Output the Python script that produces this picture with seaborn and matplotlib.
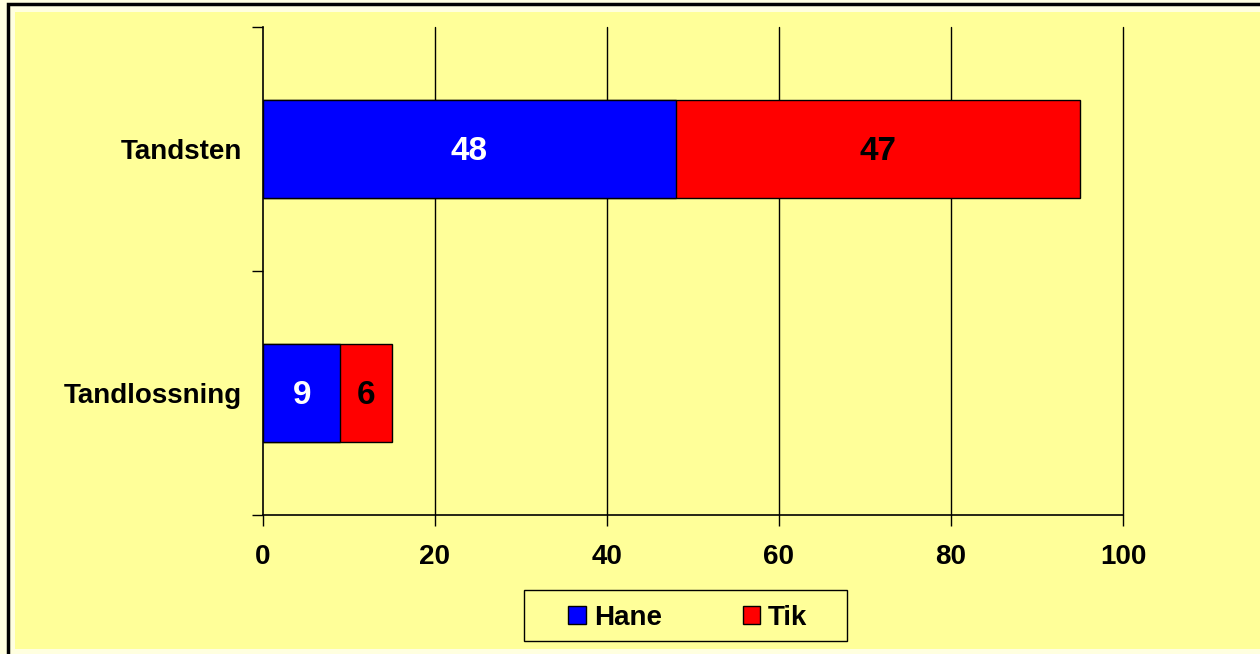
import matplotlib
matplotlib.use("Agg")
import matplotlib.pyplot as plt
from matplotlib.patches import Patch, Rectangle
import pandas as pd
import seaborn as sns

categories = ["Tandsten", "Tandlossning"]
hane = [48, 9]
tik = [47, 6]
x_ticks = [0, 20, 40, 60, 80, 100]

df = pd.DataFrame({"Kategori": categories, "Hane": hane, "Tik": tik})
df["Total"] = df["Hane"] + df["Tik"]

sns.set_style("white")
plt.rcParams["font.family"] = ["Liberation Sans", "DejaVu Sans"]
plt.rcParams["font.weight"] = "bold"
plt.rcParams["text.color"] = "black"
plt.rcParams["xtick.color"] = "black"
plt.rcParams["ytick.color"] = "black"
plt.rcParams["axes.labelcolor"] = "black"

W, H = 1260, 654
fig = plt.figure(figsize=(W / 100, H / 100), dpi=100)
fig.patch.set_facecolor("#FFFFE0")

# chart area frame (black outline + yellow fill, cut off at right/bottom)
fig.patches.append(Rectangle((15 / W, 1 - 649 / H), 1300 / W, 637 / H,
                             transform=fig.transFigure, facecolor="#FFFF99",
                             edgecolor="none", zorder=-10))
fig.patches.append(Rectangle((7.5 / W, 1 - 660 / H), 1300 / W, 656 / H,
                             transform=fig.transFigure, facecolor="none",
                             edgecolor="black", linewidth=2.5, zorder=-9))
# legend box
fig.patches.append(Rectangle((524 / W, 1 - 641 / H), 323 / W, 51 / H,
                             transform=fig.transFigure, facecolor="#FFFF99",
                             edgecolor="black", linewidth=1, zorder=-8))

ax = fig.add_axes([263 / W, 1 - 515 / H, 860 / W, 488 / H])
ax.patch.set_alpha(0)

sns.barplot(data=df, y="Kategori", x="Total", color="#FF0000", width=0.405,
            edgecolor="black", linewidth=1, saturation=1, ax=ax, zorder=3)
sns.barplot(data=df, y="Kategori", x="Hane", color="#0000FF", width=0.405,
            edgecolor="black", linewidth=1, saturation=1, ax=ax, zorder=4)

for i, row in df.iterrows():
    ax.text(row["Hane"] / 2, i + 0.012, str(row["Hane"]), color="white",
            ha="center", va="center", fontsize=24, fontweight="bold", zorder=5)
    ax.text(row["Hane"] + row["Tik"] / 2, i + 0.012, str(row["Tik"]),
            color="black", ha="center", va="center", fontsize=24,
            fontweight="bold", zorder=5)

ax.set_xlim(0, 100)
ax.set_ylim(1.5, -0.5)
ax.set_xticks(x_ticks)
ax.set_xticklabels([str(v) for v in x_ticks], fontsize=20, fontweight="bold")
ax.tick_params(axis="x", direction="out", length=8, width=1, color="black",
               pad=13, bottom=True)
ax.set_yticks([0, 1])
ax.set_yticklabels(categories, fontsize=20, fontweight="bold")
ax.tick_params(axis="y", which="major", length=0, pad=15)
ax.set_yticks([-0.5, 0.5, 1.5], minor=True)
ax.tick_params(axis="y", which="minor", direction="out", length=8, width=1,
               color="black", left=True)
ax.set_xlabel("")
ax.set_ylabel("")

for v in x_ticks[1:]:
    ax.axvline(v, color="black", linewidth=1, zorder=1, clip_on=False)

for side in ["top", "right"]:
    ax.spines[side].set_visible(False)
for side in ["left", "bottom"]:
    ax.spines[side].set_color("black")
    ax.spines[side].set_linewidth(1.2)

handles = [Patch(facecolor="#0000FF", edgecolor="black", label="Hane"),
           Patch(facecolor="#FF0000", edgecolor="black", label="Tik")]
leg = fig.legend(handles=handles, loc="center", ncol=2,
                 bbox_to_anchor=(688 / W, 1 - 618 / H), frameon=False,
                 prop={"size": 20, "weight": "bold"},
                 handlelength=0.62, handleheight=0.62, handletextpad=0.3,
                 columnspacing=2.9, borderpad=0)

fig.savefig("out.png", dpi=100, facecolor=fig.get_facecolor())
